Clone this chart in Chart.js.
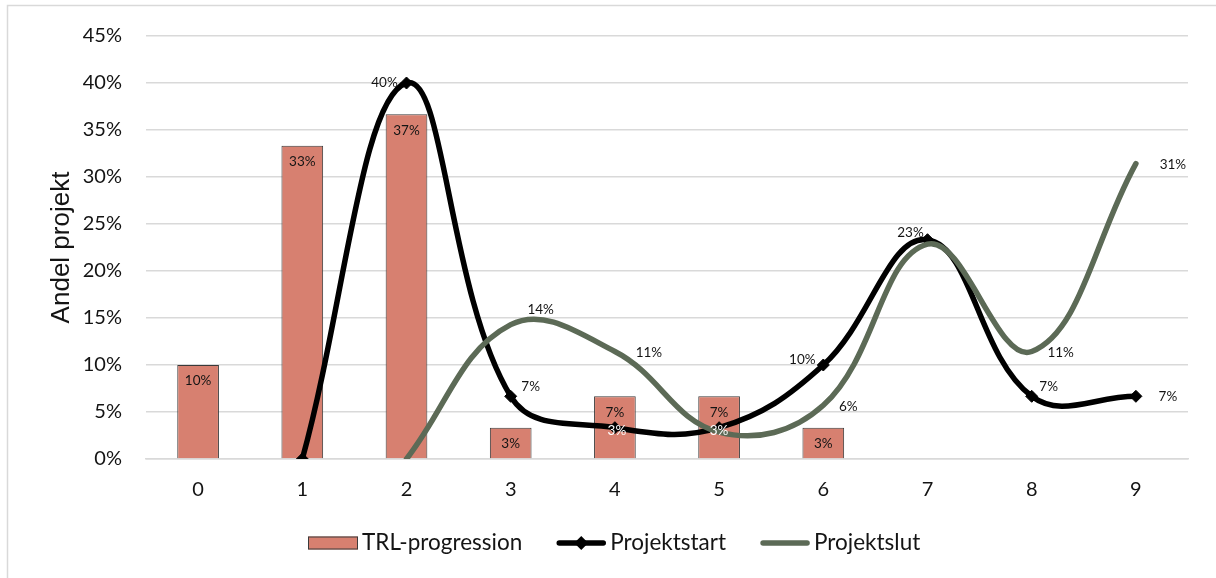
<!DOCTYPE html>
<html>
<head>
<meta charset="utf-8">
<script src="https://cdn.jsdelivr.net/npm/chart.js@4.4.0/dist/chart.umd.min.js"></script>
<style>
  html, body { margin: 0; padding: 0; background: #ffffff; }
  #wrap { position: relative; width: 1216px; height: 578px; }
</style>
</head>
<body>
<div id="wrap"><canvas id="c" width="1216" height="578"></canvas></div>
<script>
// TRL levels on the x axis
const categories = ['0', '1', '2', '3', '4', '5', '6', '7', '8', '9'];

// Share of projects (%) per TRL level
const trlProgression = [10, 33.33, 36.67, 3.33, 6.67, 6.67, 3.33, null, null, null];
const projektstart   = [null, 0, 40, 6.67, 3.33, 3.33, 10, 23.33, 6.67, 6.67];
const projektslut    = [null, null, 0, 14.29, 11.43, 2.86, 5.71, 22.86, 11.43, 31.43];

// Value axis ticks (%)
const yTickValues = [0, 5, 10, 15, 20, 25, 30, 35, 40, 45];

const seriesNames = ['TRL-progression', 'Projektstart', 'Projektslut'];

// Value label placement: offset of the label centre from the point (null = no label)
const startLabelOffsets = [null, null, [-22, 0], [20, -10], [2, 3], [0, 3], [-21, -5], [-17, -7], [17, -10], [32, 0]];
const slutLabelOffsets  = [null, null, null, [30, -15], [34, 1], null, [25, 1], null, [29, 1], [37, 1]];
const startLabelWhite   = [false, false, false, false, true, true, false, false, false, false];

const BAR_COLOR = '#d78070';
const BAR_EDGE = '#3a3a3a';
const START_COLOR = '#000000';
const SLUT_COLOR = '#5c6a56';
const GRID_COLOR = '#d9d9d9';
const TEXT_COLOR = '#141414';
const FONT = 'Lato';

const pct = v => Math.round(v) + '%';

// Light frame around the whole chart
const framePlugin = {
  id: 'frame',
  beforeDraw(chart) {
    const ctx = chart.ctx;
    ctx.save();
    ctx.strokeStyle = GRID_COLOR;
    ctx.lineWidth = 1.5;
    ctx.strokeRect(7.5, 5.5, 1240, 620);
    ctx.restore();
  }
};

// Value labels for bars and lines
const valueLabelPlugin = {
  id: 'valueLabels',
  afterDatasetsDraw(chart) {
    const ctx = chart.ctx;
    ctx.save();
    ctx.font = '13.5px ' + FONT;
    ctx.textAlign = 'center';
    ctx.textBaseline = 'middle';

    const barMeta = chart.getDatasetMeta(0);
    barMeta.data.forEach((el, i) => {
      const v = trlProgression[i];
      if (v == null) return;
      ctx.fillStyle = TEXT_COLOR;
      ctx.fillText(pct(v), el.x, el.y + 16);
    });

    const startMeta = chart.getDatasetMeta(1);
    startMeta.data.forEach((el, i) => {
      const off = startLabelOffsets[i];
      if (!off || projektstart[i] == null) return;
      ctx.fillStyle = startLabelWhite[i] ? '#ffffff' : TEXT_COLOR;
      ctx.fillText(pct(projektstart[i]), el.x + off[0], el.y + off[1]);
    });

    const slutMeta = chart.getDatasetMeta(2);
    slutMeta.data.forEach((el, i) => {
      const off = slutLabelOffsets[i];
      if (!off || projektslut[i] == null) return;
      ctx.fillStyle = TEXT_COLOR;
      ctx.fillText(pct(projektslut[i]), el.x + off[0], el.y + off[1]);
    });
    ctx.restore();
  }
};

// Legend row under the plot
const legendPlugin = {
  id: 'bottomLegend',
  afterDraw(chart) {
    const ctx = chart.ctx;
    const y = 543;
    const symW = 50, gap = 4, spacing = 34;
    ctx.save();
    ctx.font = '22.5px ' + FONT;
    ctx.textBaseline = 'middle';
    ctx.textAlign = 'left';
    let x = 308;
    seriesNames.forEach((name, k) => {
      if (k === 0) {
        ctx.fillStyle = BAR_COLOR;
        ctx.fillRect(x, y - 6.5, symW, 13);
        ctx.strokeStyle = BAR_EDGE;
        ctx.lineWidth = 1;
        ctx.strokeRect(x + 0.5, y - 6, symW - 1, 12);
      } else {
        const color = k === 1 ? START_COLOR : SLUT_COLOR;
        ctx.strokeStyle = color;
        ctx.lineWidth = 5.5;
        ctx.lineCap = 'round';
        ctx.beginPath();
        ctx.moveTo(x + 3, y);
        ctx.lineTo(x + symW - 3, y);
        ctx.stroke();
        if (k === 1) {
          const cx = x + symW / 2, r = 7;
          ctx.fillStyle = color;
          ctx.beginPath();
          ctx.moveTo(cx - r, y);
          ctx.lineTo(cx, y - r);
          ctx.lineTo(cx + r, y);
          ctx.lineTo(cx, y + r);
          ctx.closePath();
          ctx.fill();
        }
      }
      ctx.fillStyle = TEXT_COLOR;
      ctx.fillText(name, x + symW + gap, y);
      x += symW + gap + ctx.measureText(name).width + spacing;
    });
    ctx.restore();
  }
};

new Chart(document.getElementById('c'), {
  data: {
    labels: categories,
    datasets: [
      {
        type: 'bar',
        label: seriesNames[0],
        data: trlProgression,
        backgroundColor: BAR_COLOR,
        borderColor: BAR_EDGE,
        borderWidth: 1,
        barPercentage: 0.4,
        categoryPercentage: 1.0,
        order: 3
      },
      {
        type: 'line',
        label: seriesNames[1],
        data: projektstart,
        borderColor: START_COLOR,
        borderWidth: 5.5,
        tension: 0.4,
        borderCapStyle: 'round',
        borderJoinStyle: 'round',
        pointStyle: 'rectRot',
        pointRadius: 6,
        pointBackgroundColor: START_COLOR,
        pointBorderColor: START_COLOR,
        pointBorderWidth: 1,
        fill: false,
        order: 2
      },
      {
        type: 'line',
        label: seriesNames[2],
        data: projektslut,
        borderColor: SLUT_COLOR,
        borderWidth: 5.5,
        tension: 0.4,
        borderCapStyle: 'round',
        borderJoinStyle: 'round',
        pointRadius: 0,
        fill: false,
        order: 1
      }
    ]
  },
  options: {
    responsive: false,
    animation: false,
    layout: { padding: { left: 0, right: 28, top: 35, bottom: 59 } },
    plugins: {
      legend: { display: false },
      tooltip: { enabled: false }
    },
    scales: {
      x: {
        grid: { display: false, drawTicks: false },
        border: { display: true, color: GRID_COLOR, width: 1.5 },
        ticks: { font: { family: FONT, size: 20 }, color: TEXT_COLOR, padding: 19 },
        afterFit(s) { s.height = 60; }
      },
      y: {
        min: 0,
        max: 45,
        afterBuildTicks(s) { s.ticks = yTickValues.map(v => ({ value: v })); },
        ticks: {
          callback: v => v + '%',
          font: { family: FONT, size: 20 },
          color: TEXT_COLOR,
          padding: 24
        },
        grid: { color: GRID_COLOR, lineWidth: 1.5, drawTicks: false },
        border: { display: false },
        title: {
          display: true,
          text: 'Andel projekt',
          font: { family: 'Liberation Sans', size: 26 },
          color: TEXT_COLOR,
          padding: { top: 46, bottom: 0 }
        },
        afterFit(s) { s.width = 146; }
      }
    }
  },
  plugins: [framePlugin, valueLabelPlugin, legendPlugin]
});
</script>
</body>
</html>
